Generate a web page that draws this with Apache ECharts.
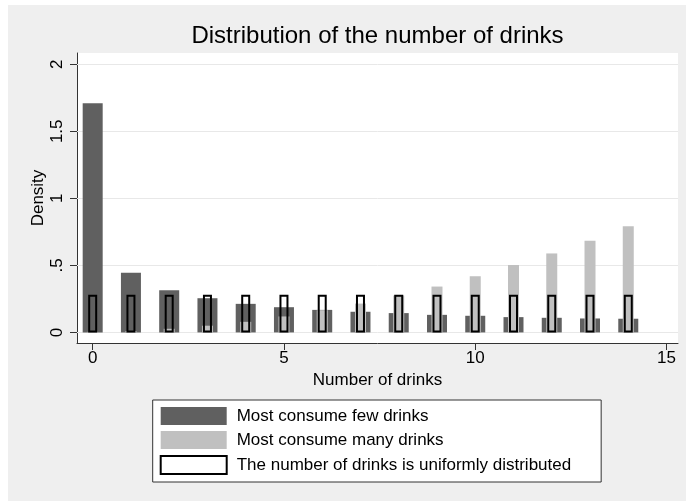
<!DOCTYPE html>
<html>
<head>
<meta charset="utf-8">
<script src="https://cdn.jsdelivr.net/npm/echarts@6/dist/echarts.min.js"></script>
<style>
  html, body { margin: 0; padding: 0; background: #ffffff; width: 686px; height: 501px; overflow: hidden; }
  #chart { position: absolute; left: 8px; top: 5px; width: 678px; height: 496px; }
</style>
</head>
<body>
<div id="chart"></div>
<script>
// ---- data ----
const drinks = [0, 1, 2, 3, 4, 5, 6, 7, 8, 9, 10, 11, 12, 13, 14];
const fewDrinks = [1.71, 0.445, 0.315, 0.255, 0.213, 0.188, 0.168, 0.154, 0.144, 0.131, 0.124, 0.114, 0.109, 0.104, 0.102];
const manyDrinks = [0.004, 0.01, 0.027, 0.05, 0.079, 0.119, 0.166, 0.215, 0.275, 0.342, 0.419, 0.503, 0.589, 0.683, 0.792];
const uniformDrinks = [0.28, 0.28, 0.28, 0.28, 0.28, 0.28, 0.28, 0.28, 0.28, 0.28, 0.28, 0.28, 0.28, 0.28, 0.28];
const xTicks = [0, 5, 10, 15];
const yTicks = [0, 0.5, 1, 1.5, 2];
const yTickLabels = ['0', '.5', '1', '1.5', '2'];
const seriesNames = ['Most consume few drinks', 'Most consume many drinks', 'The number of drinks is uniformly distributed'];
const titleText = 'Distribution of the number of drinks';
const xTitle = 'Number of drinks';
const yTitle = 'Density';

const FONT = 'Liberation Sans, Arial, Helvetica, sans-serif';
const pairs = arr => drinks.map((d, i) => [d, arr[i]]);

const xMin = -0.41, xMax = 15.3;
const hiddenX = idx => ({
  type: 'value', gridIndex: 0, min: xMin, max: xMax, show: false
});

const chart = echarts.init(document.getElementById('chart'), null, { renderer: 'canvas' });
chart.setOption({
  animation: false,
  backgroundColor: '#efefef',
  textStyle: { fontFamily: FONT },
  title: {
    text: titleText,
    left: 369.5,
    top: 19,
    padding: 0,
    textAlign: 'center',
    textStyle: { fontFamily: FONT, fontSize: 24, fontWeight: 'normal', color: '#000' }
  },
  grid: {
    left: 69, right: 8, top: 48, bottom: 158,
    show: true, backgroundColor: '#ffffff', borderWidth: 0,
    containLabel: false
  },
  xAxis: [
    {
      type: 'value', min: xMin, max: xMax,
      name: xTitle, nameLocation: 'middle', nameGap: 29, nameMoveOverlap: false,
      nameTextStyle: { fontFamily: FONT, fontSize: 17, color: '#000' },
      axisLine: { show: true, onZero: false, lineStyle: { color: '#333', width: 1 } },
      axisTick: { show: true, length: 7, customValues: xTicks, lineStyle: { color: '#333' } },
      axisLabel: { customValues: xTicks, margin: 7, fontFamily: FONT, fontSize: 17, color: '#000' },
      splitLine: { show: false }
    },
    hiddenX(1),
    hiddenX(2)
  ],
  yAxis: {
    type: 'value', min: -0.079, max: 2.084,
    name: yTitle, nameLocation: 'middle', nameGap: 30.5, nameRotate: 90, nameMoveOverlap: false,
    nameTextStyle: { fontFamily: FONT, fontSize: 17, color: '#000' },
    axisLine: { show: true, onZero: false, lineStyle: { color: '#333', width: 1 } },
    axisTick: { show: true, length: 7, customValues: yTicks, lineStyle: { color: '#333' } },
    axisLabel: {
      customValues: yTicks, rotate: 90, margin: 11,
      fontFamily: FONT, fontSize: 17, color: '#000',
      formatter: v => {
        const i = yTicks.findIndex(t => Math.abs(t - v) < 1e-9);
        return i >= 0 ? yTickLabels[i] : '';
      }
    },
    splitLine: { show: false }
  },
  legend: {
    orient: 'vertical',
    left: 144.7, top: 395,
    padding: [7, 30, 7, 7],
    itemWidth: 66, itemHeight: 18, itemGap: 6,
    backgroundColor: '#ffffff',
    borderColor: '#333', borderWidth: 1, borderRadius: 0,
    selectedMode: false,
    textStyle: { fontFamily: FONT, fontSize: 17, color: '#000', padding: [0, 0, 0, 5] },
    data: [
      { name: seriesNames[0], icon: 'rect', itemStyle: { color: '#606060', borderWidth: 0 } },
      { name: seriesNames[1], icon: 'rect', itemStyle: { color: '#c0c0c0', borderWidth: 0 } },
      { name: seriesNames[2], icon: 'rect', itemStyle: { color: '#ffffff', borderColor: '#000', borderWidth: 2 } }
    ]
  },
  series: [
    {
      name: seriesNames[0], type: 'bar', xAxisIndex: 0, yAxisIndex: 0,
      barWidth: 20, data: pairs(fewDrinks),
      itemStyle: { color: '#606060' },
      markLine: {
        silent: true, symbol: 'none', z: 1,
        label: { show: false },
        lineStyle: { color: '#e8e8e8', width: 1, type: 'solid' },
        data: yTicks.map(v => ({ yAxis: v }))
      }
    },
    {
      name: seriesNames[1], type: 'bar', xAxisIndex: 1, yAxisIndex: 0,
      barWidth: 11, data: pairs(manyDrinks),
      itemStyle: { color: '#c0c0c0' }
    },
    {
      name: seriesNames[2], type: 'bar', xAxisIndex: 2, yAxisIndex: 0,
      barWidth: 9, data: pairs(uniformDrinks),
      itemStyle: { color: 'rgba(0,0,0,0)', borderColor: '#000', borderWidth: 2 }
    }
  ]
});
</script>
</body>
</html>
